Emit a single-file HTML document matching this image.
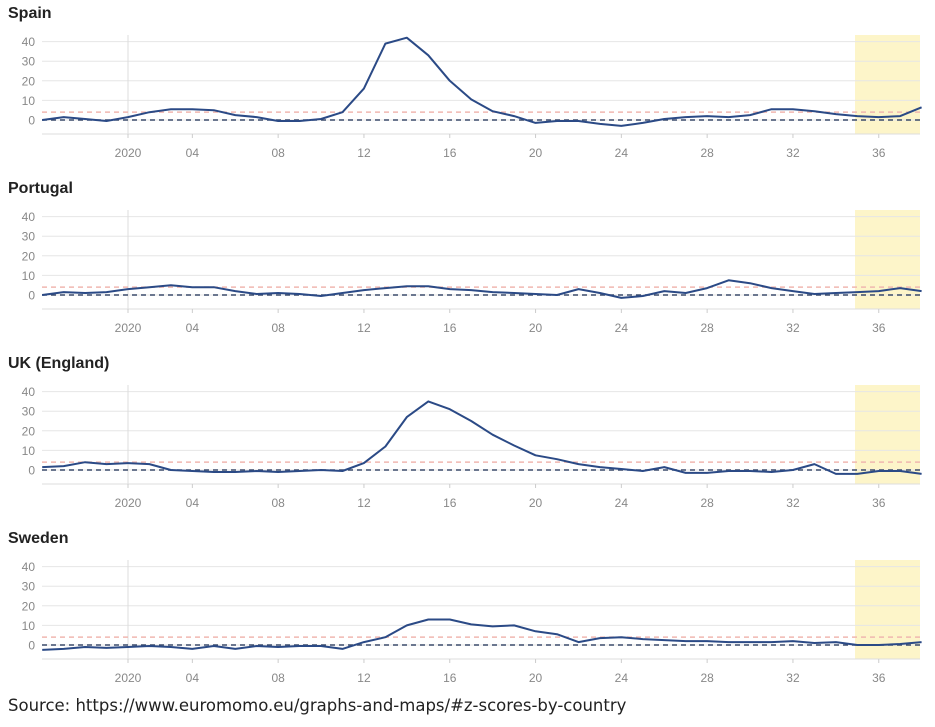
<!DOCTYPE html>
<html><head><meta charset="utf-8"><style>
html,body{margin:0;padding:0;background:#fff;width:935px;height:727px;overflow:hidden}
svg{display:block}
</style></head><body>
<svg id="s" width="935" height="727" xmlns="http://www.w3.org/2000/svg" font-family="Liberation Sans, sans-serif"></svg>
<script>
const s=document.getElementById('s');
const data={
Spain:[0,1.5,0.5,-0.5,1.5,4,5.5,5.5,5,2.5,1.5,-0.5,-0.5,0.5,4,16,39,42,33,20,10.5,4.5,2,-1.5,-0.5,-0.5,-2,-3,-1.5,0.5,1.5,2,1.5,2.5,5.5,5.5,4.5,3,2,1.5,2,6.5],
Portugal:[0,1.5,1,1.5,3,4,5,4,4,2,0.5,1,0.5,-0.5,1,2.5,3.5,4.5,4.5,3,2.5,1.5,1,0.5,0,3,1,-1.5,-0.5,2,1,3.5,7.5,6,3.5,2,0.5,1,1.5,2,3.5,2],
"UK (England)":[1.5,2,4,3,3.5,3,0,-0.5,-1,-1,-0.5,-1,-0.5,0,-0.5,3.5,12,27,35,31,25,18,12.5,7.5,5.5,3,1.5,0.5,-0.5,1.5,-1.5,-1.5,-0.5,-0.5,-1,0,3,-2,-2,-0.5,-0.5,-2],
Sweden:[-2.5,-2,-1,-1.5,-1,-0.5,-1,-2,-0.5,-2,-0.5,-1,-0.5,-0.5,-2,1.5,4,10,13,13,10.5,9.5,10,7,5.5,1.5,3.5,4,3,2.5,2,2,1.5,1.5,1.5,2,1,1.5,0,0,0.5,1.5]};
let h='';
const X=w=>128+(w-1)*21.45;
Object.keys(data).forEach((name,i)=>{
 const o=i*175, y0=120+o, Y=v=>y0-v*1.96;
 h+=`<text x="8" y="${18+o}" font-size="16" font-weight="bold" fill="#222">${name}</text>`;
 h+=`<rect x="855" y="${35+o}" width="65" height="99" fill="#fdf5c9"/>`;
 for(let v=0;v<=40;v+=10){h+=`<line x1="42" x2="920" y1="${Y(v)}" y2="${Y(v)}" stroke="#e6e6e6"/>`;
  h+=`<text x="35" y="${Y(v)+4.5}" font-size="12" fill="#888" text-anchor="end">${v}</text>`;}
 h+=`<line x1="128" x2="128" y1="${35+o}" y2="${134+o}" stroke="#ddd"/>`;
 h+=`<line x1="42" x2="920" y1="${134+o}" y2="${134+o}" stroke="#ddd"/>`;
 const labs=[[1,'2020'],[4,'04'],[8,'08'],[12,'12'],[16,'16'],[20,'20'],[24,'24'],[28,'28'],[32,'32'],[36,'36']];
 labs.forEach(([w,t])=>{h+=`<line x1="${X(w)}" x2="${X(w)}" y1="${134+o}" y2="${138+o}" stroke="#ccc"/><text x="${X(w)}" y="${157+o}" font-size="12" fill="#888" text-anchor="middle">${t}</text>`});
 h+=`<line x1="42" x2="920" y1="${Y(4)}" y2="${Y(4)}" stroke="#f0b8b0" stroke-dasharray="5,4" stroke-width="1.5"/>`;
 h+=`<line x1="42" x2="920" y1="${y0}" y2="${y0}" stroke="#3a4a6a" stroke-dasharray="5,4" stroke-width="1.5"/>`;
 const pts=data[name].map((v,k)=>`${X(k-3).toFixed(1)},${Y(v).toFixed(1)}`).join(' ');
 h+=`<polyline points="${pts}" fill="none" stroke="#2b4a86" stroke-width="2" stroke-linejoin="round"/>`;
});
h+=`<text x="8" y="711" font-size="16.5" fill="#222" font-family="DejaVu Sans, sans-serif">Source: https://www.euromomo.eu/graphs-and-maps/#z-scores-by-country</text>`;
s.innerHTML=h;
</script>
</body></html>
